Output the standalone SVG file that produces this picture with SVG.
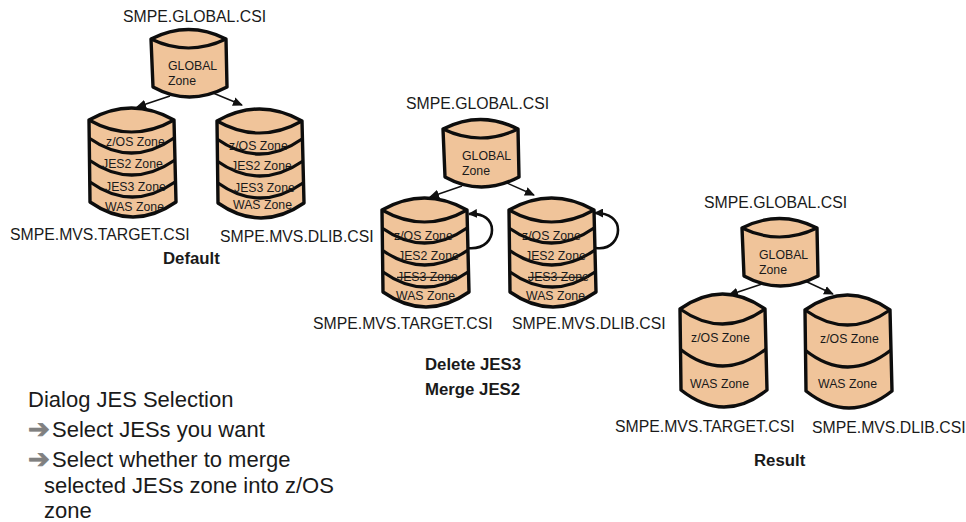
<svg xmlns="http://www.w3.org/2000/svg" width="966" height="522" viewBox="0 0 966 522">
<style>
text{font-family:"Liberation Sans",Arial,sans-serif;fill:#1a1a1a}
.csi{font-size:15.8px}
.z{font-size:12.3px}
.b{font-size:16.8px;font-weight:bold}
.d{font-size:22px}
.ar{font-family:"DejaVu Sans",sans-serif;font-size:26px;fill:#808080;stroke:#808080;stroke-width:.8}
.body{fill:#F0C49A;stroke:#0d0d0d;stroke-width:3.4;stroke-linejoin:round}
.ln{fill:none;stroke:#0d0d0d;stroke-width:3.2}
.c{fill:none;stroke:#111;stroke-width:1.4;marker-end:url(#ah)}
.loop{fill:none;stroke:#0d0d0d;stroke-width:2.6;marker-end:url(#ah2)}
</style>
<defs>
<marker id="ah" markerUnits="userSpaceOnUse" markerWidth="10" markerHeight="9" refX="9" refY="4.5" orient="auto"><path d="M0 0L10 4.5L0 9Z" fill="#111"/></marker>
<marker id="ah2" markerUnits="userSpaceOnUse" markerWidth="9" markerHeight="9" refX="8" refY="4.5" orient="auto"><path d="M0 0L9 4.5L0 9Z" fill="#111"/></marker>
<g id="gl"><path class="body" d="M0 0Q37.5-19 75 0L76 48Q38 68 2 48Z"/><path class="ln" d="M0 0Q37.5 18 75 0"/></g>
<g id="s4"><path class="body" d="M0 0Q42.5-24 85 0L87 82Q44 112 1 82Z"/><path class="ln" d="M0 0Q42.5 24 85 0M0 18Q42.5 48 85 18M0 40Q42.5 70 86 40M1 62Q43 92 86 62"/></g>
<g id="s2"><path class="body" d="M0 0Q42.5-30 85 0L87 81Q44 115 1 81Z"/><path class="ln" d="M0 0Q42.5 30 85 0M0 40Q42.5 74 86 40"/></g>
</defs>
<g id="connectors">
<path class="c" d="M170 96L137 107"/><path class="c" d="M213 93L242 105"/>
<path class="c" d="M462 186L430 197"/><path class="c" d="M507 183L534 195"/>
<path class="c" d="M762 284L729 295"/><path class="c" d="M805 281L833 294"/>
<path class="loop" d="M467 248C486 250 492 238 492 230C492 220 484 213 469 214"/>
<path class="loop" d="M596 248C612 250 618 238 618 230C618 220 610 213 595 213"/>
</g>
<g id="default-global"><use href="#gl" x="151" y="39"/><text class="z" x="168" y="70">GLOBAL</text><text class="z" x="168" y="85">Zone</text><text class="csi" x="123" y="22">SMPE.GLOBAL.CSI</text></g>
<g id="default-target"><use href="#s4" x="89" y="120"/><text class="z" x="106" y="146">z/OS Zone</text><text class="z" x="102" y="168">JES2 Zone</text><text class="z" x="105" y="191">JES3 Zone</text><text class="z" x="105" y="211">WAS Zone</text><text class="csi" x="10" y="240">SMPE.MVS.TARGET.CSI</text></g>
<g id="default-dlib"><use href="#s4" x="217" y="121"/><text class="z" x="229" y="150">z/OS Zone</text><text class="z" x="231" y="170">JES2 Zone</text><text class="z" x="234" y="192">JES3 Zone</text><text class="z" x="233" y="209">WAS Zone</text><text class="csi" x="220" y="242">SMPE.MVS.DLIB.CSI</text></g>
<text class="b" x="163" y="264">Default</text>
<g id="delete-global"><use href="#gl" x="443" y="129"/><text class="z" x="462" y="160">GLOBAL</text><text class="z" x="462" y="175">Zone</text><text class="csi" x="406" y="109">SMPE.GLOBAL.CSI</text></g>
<g id="delete-target"><use href="#s4" x="382" y="210"/><text class="z" x="394" y="240">z/OS Zone</text><text class="z" x="398" y="260">JES2 Zone</text><text class="z" x="397" y="281" text-decoration="line-through">JES3 Zone</text><text class="z" x="396" y="300">WAS Zone</text><text class="csi" x="313" y="329">SMPE.MVS.TARGET.CSI</text></g>
<g id="delete-dlib"><use href="#s4" x="509" y="210"/><text class="z" x="522" y="240">z/OS Zone</text><text class="z" x="525" y="260">JES2 Zone</text><text class="z" x="528" y="281" text-decoration="line-through">JES3 Zone</text><text class="z" x="526" y="300">WAS Zone</text><text class="csi" x="512" y="329">SMPE.MVS.DLIB.CSI</text></g>
<text class="b" x="425" y="370">Delete JES3</text>
<text class="b" x="425" y="395">Merge JES2</text>
<g id="result-global"><use href="#gl" x="742" y="228"/><text class="z" x="759" y="259">GLOBAL</text><text class="z" x="759" y="274">Zone</text><text class="csi" x="704" y="208">SMPE.GLOBAL.CSI</text></g>
<g id="result-target"><use href="#s2" x="680" y="309"/><text class="z" x="691" y="342">z/OS Zone</text><text class="z" x="690" y="388">WAS Zone</text><text class="csi" x="615" y="432">SMPE.MVS.TARGET.CSI</text></g>
<g id="result-dlib"><use href="#s2" x="805" y="310"/><text class="z" x="820" y="343">z/OS Zone</text><text class="z" x="818" y="388">WAS Zone</text><text class="csi" x="812" y="433">SMPE.MVS.DLIB.CSI</text></g>
<text class="b" x="754" y="466">Result</text>
<g id="notes">
<text class="d" x="28" y="407">Dialog JES Selection</text>
<text class="ar" x="28" y="438">➔</text><text class="d" x="52" y="437">Select JESs you want</text>
<text class="ar" x="28" y="468">➔</text><text class="d" x="52" y="467">Select whether to merge</text>
<text class="d" x="44" y="493">selected JESs zone into z/OS</text>
<text class="d" x="44" y="518">zone</text>
</g>
</svg>
